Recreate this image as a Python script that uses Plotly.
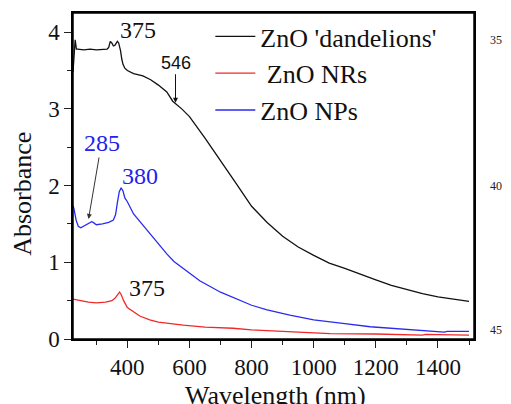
import plotly.graph_objects as go

# ZnO 'dandelions'
wl_d = [225, 228, 232, 236, 240, 260, 280, 300, 320, 335, 340, 345, 350, 355, 360, 368, 372, 378, 382, 386, 392,
        400, 420, 450, 475, 500, 527, 546, 575, 600, 650, 700, 750, 800, 850, 900, 950, 1000, 1050, 1100,
        1150, 1200, 1250, 1300, 1350, 1400, 1450, 1500]
abs_d = [3.48, 3.75, 3.90, 3.78, 3.78, 3.77, 3.78, 3.77, 3.78, 3.78, 3.80, 3.88, 3.86, 3.82, 3.83, 3.88, 3.86,
         3.76, 3.65, 3.58, 3.53, 3.50, 3.46, 3.43, 3.38, 3.31, 3.22, 3.10, 3.00, 2.90, 2.62, 2.33, 2.03, 1.73,
         1.52, 1.34, 1.20, 1.09, 0.99, 0.92, 0.84, 0.77, 0.70, 0.64, 0.59, 0.55, 0.52, 0.49]

# ZnO NRs
wl_r = [225, 235, 250, 275, 300, 330, 350, 360, 368, 375, 380, 388, 400, 417, 440, 472, 500, 580, 650, 740, 800,
        900, 1000, 1053, 1200, 1300, 1350, 1360, 1400, 1450, 1500]
abs_r = [0.52, 0.51, 0.50, 0.48, 0.47, 0.48, 0.50, 0.53, 0.58, 0.61, 0.58, 0.50, 0.41, 0.36, 0.30, 0.25, 0.22,
         0.18, 0.155, 0.14, 0.12, 0.10, 0.08, 0.07, 0.065, 0.06, 0.05, 0.06, 0.06, 0.055, 0.05]

# ZnO NPs
wl_p = [225, 228, 235, 242, 250, 260, 270, 280, 285, 290, 300, 320, 340, 355, 362, 368, 374, 380, 386, 392, 400,
        420, 450, 472, 500, 527, 550, 600, 633, 700, 740, 800, 850, 923, 1000, 1053, 1100, 1182, 1250, 1311,
        1400, 1420, 1430, 1450, 1500]
abs_p = [1.74, 1.70, 1.55, 1.47, 1.45, 1.47, 1.50, 1.51, 1.53, 1.52, 1.49, 1.50, 1.52, 1.55, 1.62, 1.78, 1.92,
         1.97, 1.93, 1.84, 1.79, 1.63, 1.48, 1.37, 1.24, 1.11, 1.01, 0.86, 0.76, 0.61, 0.54, 0.44, 0.38, 0.31,
         0.25, 0.22, 0.20, 0.16, 0.14, 0.12, 0.10, 0.09, 0.10, 0.10, 0.10]

names = ["ZnO 'dandelions'", " ZnO NRs", "ZnO NPs"]
colors = ["#111111", "#f02828", "#2a2af0"]

x_ticks = [400, 600, 800, 1000, 1200, 1400]
y_ticks = [0, 1, 2, 3, 4]

serif = "Liberation Serif"

fig = go.Figure()
fig.add_trace(go.Scatter(x=wl_d, y=abs_d, mode="lines", name=names[0], line=dict(color=colors[0], width=1.3)))
fig.add_trace(go.Scatter(x=wl_r, y=abs_r, mode="lines", name=names[1], line=dict(color=colors[1], width=1.3)))
fig.add_trace(go.Scatter(x=wl_p, y=abs_p, mode="lines", name=names[2], line=dict(color=colors[2], width=1.3)))

fig.update_layout(
    width=511, height=404,
    margin=dict(l=73, r=37, t=11, b=65),
    paper_bgcolor="white", plot_bgcolor="white",
    font=dict(family=serif, color="#111111"),
    showlegend=True,
    legend=dict(x=0.3425, y=1.0, xanchor="left", yanchor="top", bgcolor="rgba(0,0,0,0)",
                font=dict(family=serif, size=26, color="#111111"), tracegroupgap=0, itemwidth=40),
    shapes=[dict(type="rect", xref="paper", yref="paper", x0=0, x1=1, y0=0, y1=1,
                 line=dict(color="#000000", width=1.5), layer="above")],
)
axis_common = dict(ticks="outside", ticklen=7, tickwidth=1, tickcolor="#222222", showgrid=False,
                   zeroline=False, showline=True, linecolor="#000000", linewidth=1.5, mirror=True,
                   tickfont=dict(family=serif, size=23, color="#111111"))
fig.update_xaxes(range=[225, 1516], tickvals=x_ticks,
                 minor=dict(tickvals=[300, 500, 700, 900, 1100, 1300, 1500], ticks="outside", ticklen=4,
                            tickcolor="#222222"), **axis_common)
fig.update_yaxes(range=[0, 4.25], tickvals=y_ticks,
                 minor=dict(tickvals=[0.5, 1.5, 2.5, 3.5], ticks="outside", ticklen=4, tickcolor="#222222"),
                 **axis_common)

ann = []
# axis titles
ann.append(dict(text="Absorbance", xref="paper", yref="paper", x=-0.167, y=0.444, showarrow=False,
                textangle=-90, font=dict(family=serif, size=26, color="#111111")))
ann.append(dict(text="Wavelength (nm)", xref="paper", yref="paper", x=0.505, y=-0.122, yanchor="top",
                showarrow=False, font=dict(family=serif, size=26, color="#111111")))
# peak labels
ann.append(dict(text="375", x=433, y=4.03, showarrow=False, font=dict(family=serif, size=24, color="#111111")))
ann.append(dict(text="546", x=555, y=3.08, ax=0, ay=-40, showarrow=True, arrowhead=2, arrowsize=1,
                arrowwidth=1, arrowcolor="#111111", standoff=0,
                font=dict(family="Liberation Sans", size=18, color="#111111")))
ann.append(dict(text="285", x=275, y=1.565, ax=13, ay=-76, showarrow=True, arrowhead=2, arrowsize=1,
                arrowwidth=1, arrowcolor="#333333", standoff=0,
                font=dict(family=serif, size=24, color="#2222ee")))
ann.append(dict(text="380", x=440, y=2.12, showarrow=False, font=dict(family=serif, size=24, color="#2222ee")))
ann.append(dict(text="375", x=462, y=0.66, showarrow=False, font=dict(family=serif, size=24, color="#111111")))
# manuscript line numbers at the right edge
for t, yy in [("35", 0.945), ("40", 0.47), ("45", 0.0)]:
    ann.append(dict(text=t, xref="paper", yref="paper", x=1.075, y=yy, showarrow=False,
                    font=dict(family=serif, size=12, color="#222222")))
fig.update_layout(annotations=ann)

fig.write_html("out.html", config={"displayModeBar": False},
               post_script="document.body.style.margin='0';")
